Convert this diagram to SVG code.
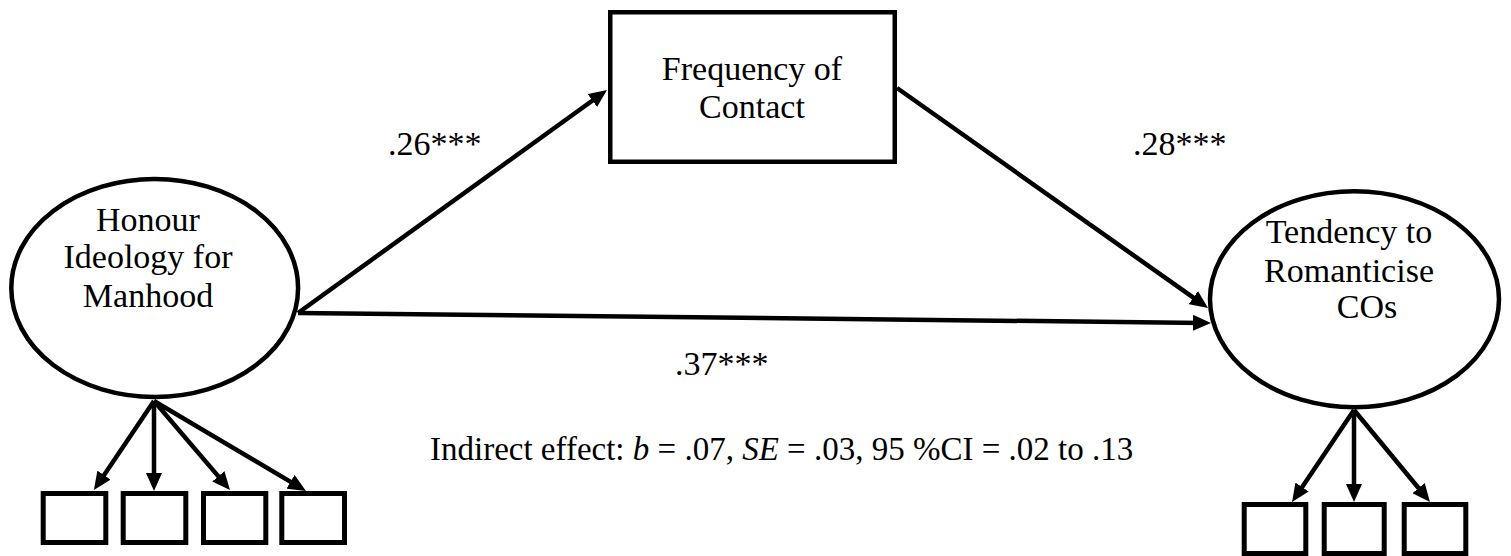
<svg xmlns="http://www.w3.org/2000/svg" width="1511" height="556" viewBox="0 0 1511 556">
<style>
text{font-family:"Liberation Serif","Times New Roman",serif;font-size:34px;fill:#000}
.c{text-anchor:middle}
.node{fill:#fff;stroke:#000;stroke-width:4.5}
.ind{fill:#fff;stroke:#000;stroke-width:5}
.conn line{stroke:#000;stroke-width:4.5;fill:none}
.note{font-size:33px}
</style>
<defs>
<marker id="ah" markerUnits="userSpaceOnUse" markerWidth="18" markerHeight="16" refX="10" refY="8" orient="auto" viewBox="0 0 18 16">
<path d="M0,0 L18,8 L0,16 z" fill="#000"/>
</marker>
</defs>
<g id="connectors" class="conn">
<line x1="298" y1="313" x2="600.5" y2="94.7" marker-end="url(#ah)"/>
<line x1="897" y1="88" x2="1201.5" y2="303.4" marker-end="url(#ah)"/>
<line x1="298" y1="313" x2="1203" y2="322.9" marker-end="url(#ah)"/>
<line x1="154" y1="401" x2="98.4" y2="483.4" marker-end="url(#ah)"/>
<line x1="154" y1="401" x2="154" y2="483" marker-end="url(#ah)"/>
<line x1="154" y1="401" x2="224.8" y2="483.9" marker-end="url(#ah)"/>
<line x1="154" y1="401" x2="299.1" y2="486.9" marker-end="url(#ah)"/>
<line x1="1354" y1="410" x2="1296.5" y2="495.4" marker-end="url(#ah)"/>
<line x1="1354" y1="410" x2="1354" y2="494" marker-end="url(#ah)"/>
<line x1="1354" y1="410" x2="1424.9" y2="495.8" marker-end="url(#ah)"/>
</g>
<g id="honour">
<ellipse class="node" cx="154.7" cy="288" rx="143.4" ry="109"/>
<text class="c" x="148" y="231">Honour</text>
<text class="c" x="148" y="268">Ideology for</text>
<text class="c" x="148" y="307">Manhood</text>
</g>
<g id="frequency">
<rect class="node" x="610.25" y="12.25" width="284.5" height="149.5"/>
<text class="c" x="752" y="80">Frequency of</text>
<text class="c" x="752" y="118">Contact</text>
</g>
<g id="tendency">
<ellipse class="node" cx="1354.5" cy="299.3" rx="144.5" ry="108"/>
<text class="c" x="1349" y="243">Tendency to</text>
<text class="c" x="1349" y="282">Romanticise</text>
<text class="c" x="1367" y="318">COs</text>
</g>
<g id="honour-indicators">
<rect class="ind" x="43.2" y="493.5" width="62.6" height="49"/>
<rect class="ind" x="123.2" y="493.5" width="62.6" height="49"/>
<rect class="ind" x="203.5" y="493.5" width="62.3" height="49"/>
<rect class="ind" x="281.8" y="493.5" width="62.7" height="49"/>
</g>
<g id="tendency-indicators">
<rect class="ind" x="1244.2" y="504.5" width="61.6" height="49"/>
<rect class="ind" x="1324.2" y="504.5" width="60" height="49"/>
<rect class="ind" x="1404.2" y="504.5" width="61.6" height="49"/>
</g>
<g id="labels">
<text x="388" y="155">.26***</text>
<text x="1133" y="155">.28***</text>
<text x="675" y="375">.37***</text>
<text class="note" x="430" y="460">Indirect effect: <tspan font-style="italic">b</tspan> = .07, <tspan font-style="italic">SE</tspan> = .03, 95 %CI = .02 to .13</text>
</g>
</svg>
